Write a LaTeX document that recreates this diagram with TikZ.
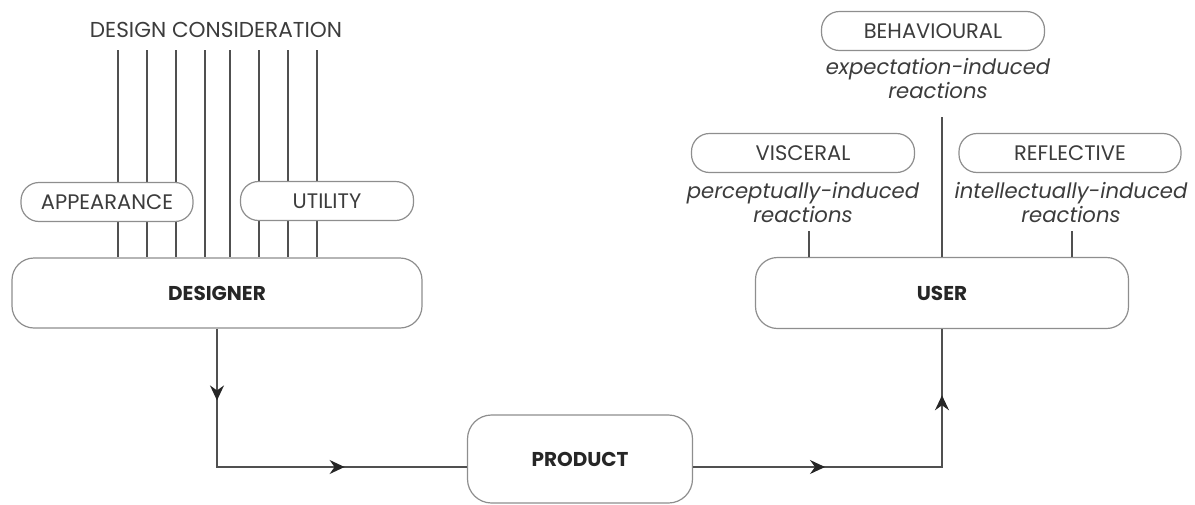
\documentclass[tikz,border=0pt]{standalone}
\usepackage{fontspec}
\setmainfont{Poppins}
\usetikzlibrary{decorations.markings,arrows.meta}
\definecolor{linegray}{HTML}{505050}
\definecolor{boxgray}{HTML}{8E8E8E}
\definecolor{txtgray}{HTML}{3C3C3C}
\tikzset{flowA/.style={line width=0.8pt,draw=linegray,postaction=
    {decorate,decoration={
    markings, mark=at position 0.185 with {\arrow[black!85]{Stealth[length=7.5pt,width=7pt,inset=2.5pt]}},
    mark=at position 0.685 with {\arrow[black!85]{Stealth[length=7.5pt,width=7pt,inset=2.5pt]}}}
    }}}
\tikzset{flowB/.style={line width=0.8pt,draw=linegray,postaction=
    {decorate,decoration={
    markings, mark=at position 0.341 with {\arrow[black!85]{Stealth[length=7.5pt,width=7pt,inset=2.5pt]}},
    mark=at position 0.829 with {\arrow[black!85]{Stealth[length=7.5pt,width=7pt,inset=2.5pt]}}}
    }}}
\tikzset{link/.style={line width=0.8pt,draw=linegray}}
\tikzset{pill/.style={draw=boxgray,line width=0.6pt,fill=white,rounded corners=9pt,
    minimum height=19.5pt,inner sep=0pt,text=txtgray,font=\fontsize{10.5}{12}\selectfont}}
\tikzset{bigbox/.style={draw=boxgray,line width=0.6pt,fill=white,rounded corners=11pt,
    inner sep=0pt,text=black!85,font=\bfseries\fontsize{10}{12}\selectfont}}
\tikzset{note/.style={align=center,text=txtgray,inner sep=0pt,
    font=\itshape\fontsize{10.6}{9.8}\selectfont}}

\begin{document}
\begin{tikzpicture}[x=0.5pt,y=-0.5pt]

\useasboundingbox (0,0) rectangle (1195,504);

\pgfmathsetmacro{\ytop}{50}
\pgfmathsetmacro{\ylow}{467}
\coordinate (lowrow) at (0,\ylow);

% designer side
\node[bigbox,minimum width=205pt,minimum height=35pt] (designer) at (217,293) {DESIGNER};
\node[text=txtgray,inner sep=0pt,font=\fontsize{10.8}{12}\selectfont] (consid) at (216,30)
    {DESIGN CONSIDERATION};

\foreach \x [count=\i] in {118,147,176,205,230,259,288,317}{
  \coordinate (dc\i) at (\x,\ytop);
  \draw[link] (dc\i) -- (dc\i |- designer.north);
}

\node[pill,minimum width=86pt] (appear) at (107,202) {APPEARANCE};
\node[pill,minimum width=86.5pt] (utility) at (327,201) {UTILITY};

% product
\node[bigbox,minimum width=112.5pt,minimum height=44pt,rounded corners=12pt] (product)
    at (580,459) {PRODUCT};

% user side
\node[bigbox,minimum width=186.5pt,minimum height=35.5pt] (user) at (942,293) {USER};

\node[pill,minimum width=111.5pt] (behav) at (933,31) {BEHAVIOURAL};
\node[note] (behav-r) at (938,78.5) {expectation-induced\\reactions};
\node[pill,minimum width=111.5pt] (visc) at (803,153) {VISCERAL};
\node[note] (visc-r) at (803,202.5) {perceptually-induced\\reactions};
\node[pill,minimum width=111pt] (refl) at (1070,153) {REFLECTIVE};
\node[note] (refl-r) at (1071,202.5) {intellectually-induced\\reactions};

\coordinate (b-end) at (942,117);
\coordinate (v-end) at (809,231);
\coordinate (r-end) at (1072,231);
\draw[link] (b-end) -- (b-end |- user.north);
\draw[link] (v-end) -- (v-end |- user.north);
\draw[link] (r-end) -- (r-end |- user.north);

% flow
\draw[flowA] (designer.south) |- (product.west |- lowrow);
\draw[flowB] (product.east |- lowrow) -| (user.south);

\end{tikzpicture}
\end{document}
